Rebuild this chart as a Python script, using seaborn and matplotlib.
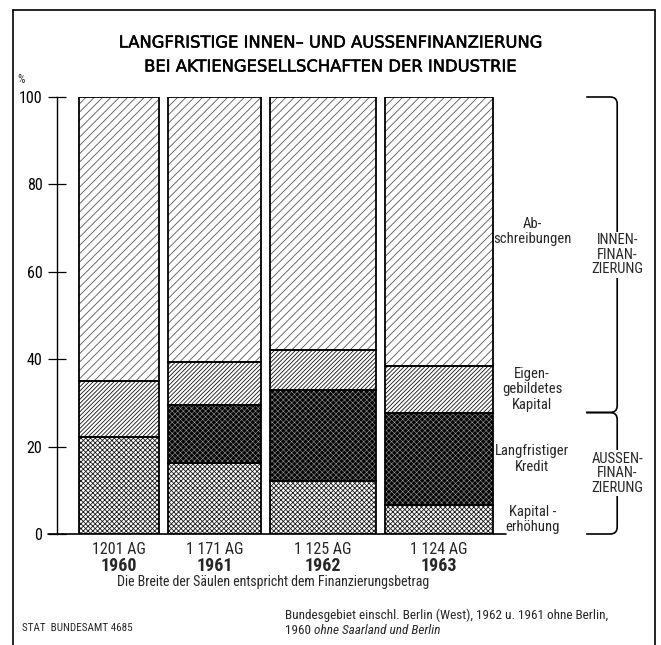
import numpy as np
import pandas as pd
import matplotlib
matplotlib.use("Agg")
import matplotlib.pyplot as plt
import matplotlib.patheffects as pe
import seaborn as sns
from matplotlib import font_manager as fm
from matplotlib.path import Path
from matplotlib.patches import PathPatch

# ---------------- data ----------------
years = ["1960", "1961", "1962", "1963"]
companies = ["1201 AG", "1 171 AG", "1 125 AG", "1 124 AG"]
financing_amount = [100, 116, 133, 135]          # relative width of the columns
kapitalerhoehung = [22.3, 16.2, 12.2, 6.6]
langfristiger_kredit = [0.0, 13.4, 20.8, 21.2]
eigengebildetes_kapital = [12.7, 9.8, 9.2, 10.6]
abschreibungen = [65.0, 60.6, 57.8, 61.6]
segment_labels = ["Kapital -\nerhöhung", "Langfristiger\nKredit",
                  "Eigen-\ngebildetes\nKapital", "Ab-\nschreibungen"]
yticks = [0, 20, 40, 60, 80, 100]

df = pd.DataFrame({
    "year": years, "ag": companies, "width": financing_amount,
    "Kapitalerhöhung": kapitalerhoehung,
    "Langfristiger Kredit": langfristiger_kredit,
    "Eigengebildetes Kapital": eigengebildetes_kapital,
    "Abschreibungen": abschreibungen,
})
segments = ["Kapitalerhöhung", "Langfristiger Kredit",
            "Eigengebildetes Kapital", "Abschreibungen"]

# ---------------- style ----------------
sns.set_theme(style="white")
available = {f.name for f in fm.fontManager.ttflist}
narrow = None
for cand in ["Liberation Sans Narrow", "Roboto Condensed", "Open Sans Condensed"]:
    if cand in available:
        narrow = cand
        break
NARROW = [narrow, "DejaVu Sans"] if narrow else ["DejaVu Sans"]
nscale = 1.0 if narrow else 0.85
plt.rcParams["font.family"] = ["DejaVu Sans"]
plt.rcParams["hatch.linewidth"] = 0.6

W, H = 661, 645
fig = plt.figure(figsize=(W / 100, H / 100), dpi=100)
fig.patch.set_facecolor("white")

ax_left, ax_right, ax_top, ax_bot = 57, 645, 97, 534
ax = fig.add_axes([ax_left / W, 1 - ax_bot / H, (ax_right - ax_left) / W, (ax_bot - ax_top) / H])
PX = 0.8                      # pixels per width unit
ax.set_xlim(0, (ax_right - ax_left) / PX)
ax.set_ylim(0, 100)
ax.set_facecolor("none")

gap = 9 / PX
start = 22 / PX
lefts = []
x = start
for w in df["width"]:
    lefts.append(x)
    x += w + gap
df["left"] = lefts
df["center"] = df["left"] + df["width"] / 2

styles = {
    "Kapitalerhöhung": dict(facecolor="white", hatch="xxxxxxx", hatchcolor="#1a1a1a", lw=0.6),
    "Langfristiger Kredit": dict(facecolor="#050505", hatch="xxxxxx", hatchcolor="#a8a8a8", lw=0.35),
    "Eigengebildetes Kapital": dict(facecolor="white", hatch="////////", hatchcolor="#111111", lw=0.6),
    "Abschreibungen": dict(facecolor="white", hatch="////", hatchcolor="#555555", lw=0.6),
}

bottom = np.zeros(len(df))
for seg in segments:
    st = styles[seg]
    vals = df[seg].to_numpy()
    with plt.rc_context({"hatch.linewidth": st["lw"]}):
        ax.bar(df["left"], vals, width=df["width"], bottom=bottom, align="edge",
               facecolor=st["facecolor"], edgecolor=st["hatchcolor"], hatch=st["hatch"],
               linewidth=0, zorder=2)
    ax.bar(df["left"], vals, width=df["width"], bottom=bottom, align="edge",
           fill=False, edgecolor="black", linewidth=1.3, zorder=3)
    bottom = bottom + vals

# axis
for s in ["top", "right", "bottom"]:
    ax.spines[s].set_visible(False)
ax.spines["left"].set_linewidth(1.0)
ax.spines["left"].set_color("black")
ax.set_xticks([])
ax.set_yticks(yticks)
ax.set_yticklabels([str(t) for t in yticks], family=NARROW, fontsize=11.5 * nscale)
ax.tick_params(axis="y", left=True, direction="inout", length=13, width=0.9, pad=4,
               colors="black")
last_right = df["left"].iloc[-1] + df["width"].iloc[-1]
ax.plot([-9 / PX, last_right + 13 / PX], [0, 0], color="black", lw=1.2,
        clip_on=False, zorder=4)
ax.text(-36 / PX, 104, "%", ha="center", va="center", fontsize=8.5,
        family=NARROW, clip_on=False)

# labels under the bars
for _, r in df.iterrows():
    ax.annotate(r["ag"], (r["center"], 0), xytext=(0, -11), textcoords="offset points",
                ha="center", va="center", fontsize=11.5 * nscale, family=NARROW)
    ax.annotate(r["year"], (r["center"], 0), xytext=(0, -23), textcoords="offset points",
                ha="center", va="center", fontsize=13 * nscale, family=NARROW,
                fontweight="bold")

# segment labels to the right of the last column
last = df.iloc[-1]
cum = 0.0
lab_x = last_right + 39 / PX
for seg, lab in zip(segments, segment_labels):
    v = last[seg]
    ax.text(lab_x, cum + v / 2, lab, ha="center", va="center", fontsize=10.5 * nscale,
            family=NARROW, linespacing=1.15)
    cum += v

# braces
split = last["Kapitalerhöhung"] + last["Langfristiger Kredit"]
tip = last_right + 93 / PX
xv = last_right + 124 / PX
r = 7 / PX
ry = 7 / 4.37


def brace(y_top, y_bot):
    verts = [(tip, y_top), (xv - r, y_top), (xv, y_top), (xv, y_top - ry),
             (xv, y_bot + ry), (xv, y_bot), (xv - r, y_bot), (tip, y_bot)]
    codes = [Path.MOVETO, Path.LINETO, Path.CURVE3, Path.CURVE3,
             Path.LINETO, Path.CURVE3, Path.CURVE3, Path.LINETO]
    ax.add_patch(PathPatch(Path(verts, codes), fill=False, lw=1.2, color="black",
                           clip_on=False, zorder=3))


brace(100, split)
brace(split, 0)
for ytxt, txt in [((100 + split) / 2, "INNEN-\nFINAN-\nZIERUNG"),
                  (split / 2, "AUSSEN-\nFINAN-\nZIERUNG")]:
    ax.text(xv, ytxt, txt, ha="center", va="center",
            fontsize=10.5 * nscale, family=NARROW, linespacing=1.05, zorder=5,
            bbox=dict(facecolor="white", edgecolor="none", pad=1))

# titles and notes
thick = [pe.withStroke(linewidth=0.35, foreground="black")]
fig.text(330 / W, 1 - 43 / H, "LANGFRISTIGE INNEN– UND AUSSENFINANZIERUNG",
         ha="center", va="center", fontsize=11.8, color="black", path_effects=thick)
fig.text(330 / W, 1 - 67 / H, "BEI AKTIENGESELLSCHAFTEN DER INDUSTRIE",
         ha="center", va="center", fontsize=11.8, color="black", path_effects=thick)
fig.text(273 / W, 1 - 582 / H, "Die Breite der Säulen entspricht dem Finanzierungsbetrag",
         ha="center", va="center", fontsize=10 * nscale, family=NARROW)
fig.text(285 / W, 1 - 615 / H,
         "Bundesgebiet einschl. Berlin (West), 1962 u. 1961 ohne Berlin,",
         ha="left", va="center", fontsize=9.5 * nscale, family=NARROW)
t1 = fig.text(285 / W, 1 - 631 / H, "1960 ", ha="left", va="center",
              fontsize=9.5 * nscale, family=NARROW)
ax.annotate("ohne Saarland und Berlin", xy=(1, 0.5), xycoords=t1, ha="left", va="center",
            fontsize=9.5 * nscale, family=NARROW, style="italic")
fig.text(22 / W, 1 - 628 / H, "STAT  BUNDESAMT 4685", ha="left", va="center",
         fontsize=8, family=NARROW)

# frame
fig.add_artist(plt.Line2D([13 / W, 13 / W], [0, 1 - 10 / H], transform=fig.transFigure,
                          color="black", lw=1.2))
fig.add_artist(plt.Line2D([655 / W, 655 / W], [0, 1 - 10 / H], transform=fig.transFigure,
                          color="black", lw=1.2))
fig.add_artist(plt.Line2D([13 / W, 655 / W], [1 - 10 / H, 1 - 10 / H],
                          transform=fig.transFigure, color="black", lw=1.2))

fig.savefig("out.png", dpi=100, facecolor="white")
